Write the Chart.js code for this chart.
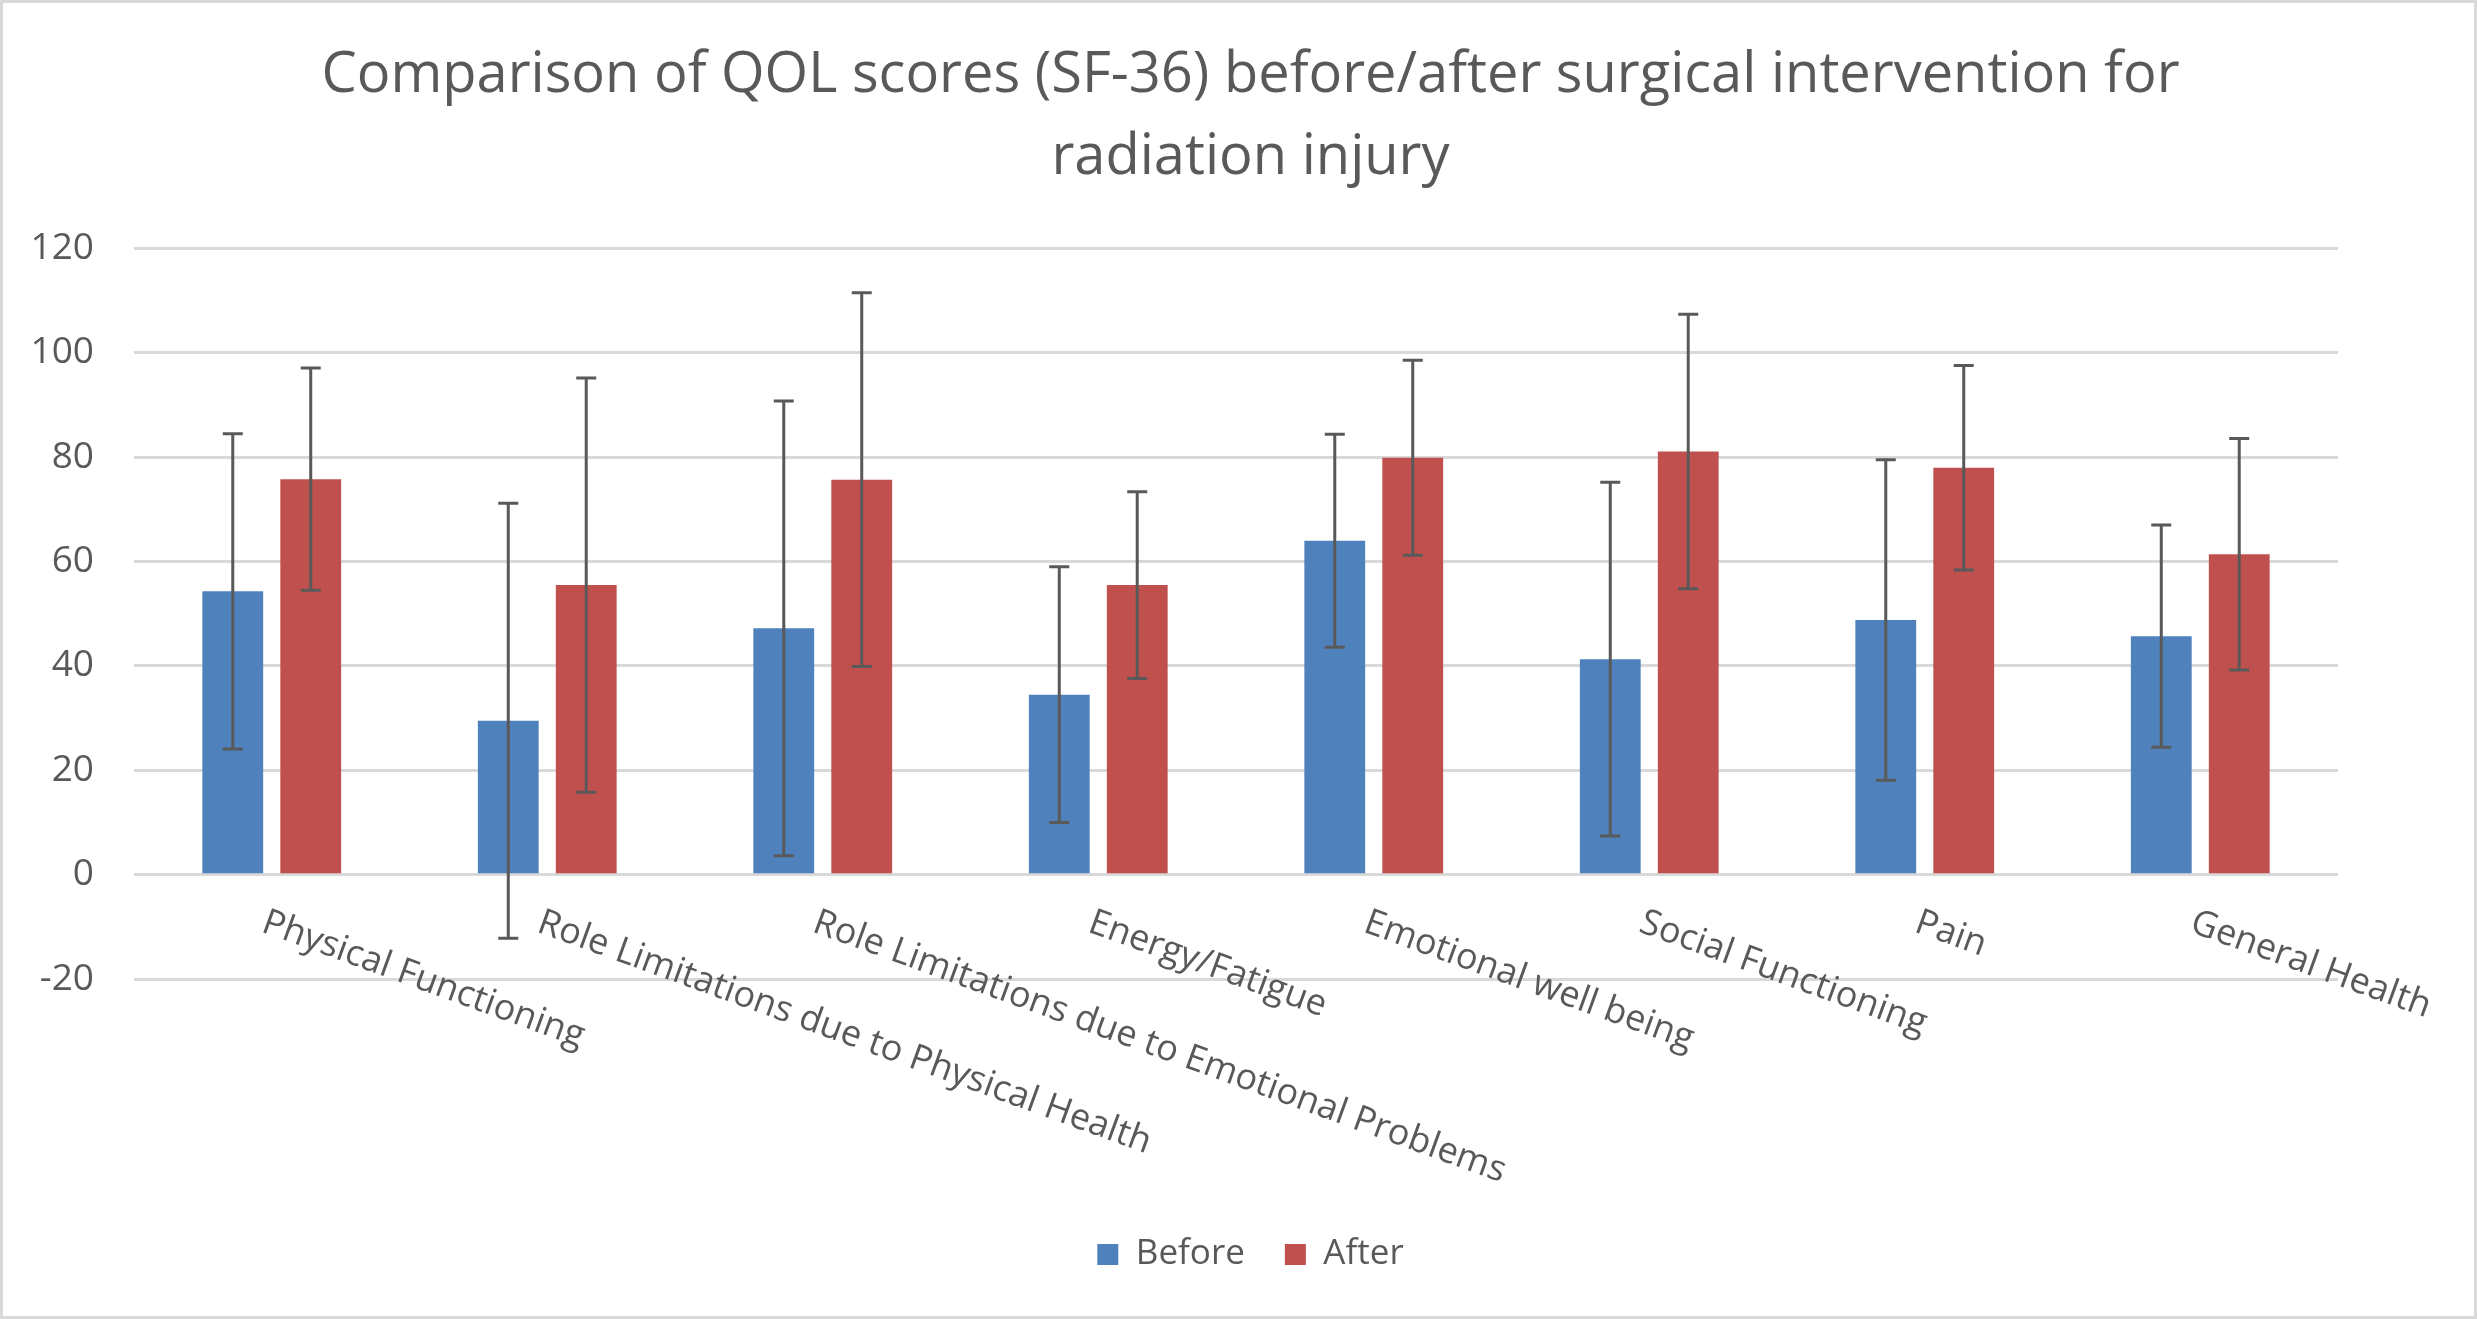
<!DOCTYPE html>
<html>
<head>
<meta charset="utf-8">
<script src="https://cdn.jsdelivr.net/npm/chart.js@4"></script>
<style>
  html, body { margin: 0; padding: 0; background: #fff; }
  #myChart { display: block; outline: 3px solid #d9d9d9; outline-offset: -3px; }
</style>
</head>
<body>
<canvas id="myChart" width="2477" height="1319"></canvas>
<script>
// categories and values
var categories = ['Physical Functioning', 'Role Limitations due to Physical Health',
    'Role Limitations due to Emotional Problems', 'Energy/Fatigue', 'Emotional well being',
    'Social Functioning', 'Pain', 'General Health'];
var before = [54.3, 29.5, 47.2, 34.5, 64.0, 41.3, 48.8, 45.7];
var beforeErr = [30.2, 41.7, 43.6, 24.5, 20.4, 33.9, 30.7, 21.3];
var after = [75.8, 55.5, 75.7, 55.5, 79.9, 81.1, 78.0, 61.4];
var afterErr = [21.3, 39.7, 35.8, 17.9, 18.7, 26.3, 19.6, 22.2];
var yTicks = [-20, 0, 20, 40, 60, 80, 100, 120];

var textColor = '#595959';
var fontName = "'Open Sans', sans-serif";

// error bars drawn on top of the bars
var errorBars = {
    id: 'errorBars',
    afterDatasetsDraw: function (chart) {
        var ctx = chart.ctx;
        var y = chart.scales.y;
        var errs = [beforeErr, afterErr];
        ctx.save();
        ctx.strokeStyle = textColor;
        ctx.lineWidth = 3;
        chart.data.datasets.forEach(function (ds, di) {
            var meta = chart.getDatasetMeta(di);
            meta.data.forEach(function (bar, i) {
                var v = ds.data[i], e = errs[di][i];
                var top = y.getPixelForValue(v + e);
                var bot = y.getPixelForValue(v - e);
                ctx.beginPath();
                ctx.moveTo(bar.x, top); ctx.lineTo(bar.x, bot);
                ctx.moveTo(bar.x - 10, top); ctx.lineTo(bar.x + 10, top);
                ctx.moveTo(bar.x - 10, bot); ctx.lineTo(bar.x + 10, bot);
                ctx.stroke();
            });
        });
        ctx.restore();
    }
};

// category labels start at the tick and slope down to the right
var slantLabels = {
    id: 'slantLabels',
    afterDraw: function (chart) {
        var ctx = chart.ctx;
        var x = chart.scales.x;
        var y0 = chart.scales.y.getPixelForValue(0);
        ctx.save();
        ctx.fillStyle = textColor;
        ctx.font = '36px ' + fontName;
        ctx.textAlign = 'left';
        ctx.textBaseline = 'top';
        categories.forEach(function (label, i) {
            ctx.save();
            ctx.translate(x.getPixelForTick(i) - 2, y0 + 30);
            ctx.rotate(20 * Math.PI / 180);
            ctx.fillText(label, 0, 0);
            ctx.restore();
        });
        ctx.restore();
    }
};

var ctx = document.getElementById('myChart').getContext('2d');
var chart = new Chart(ctx, {
    type: 'bar',
    data: {
        labels: categories,
        datasets: [{
            label: 'Before',
            backgroundColor: '#4f81bd',
            data: before
        }, {
            label: 'After',
            backgroundColor: '#c0504d',
            data: after
        }]
    },
    options: {
        responsive: false,
        devicePixelRatio: 1,
        animation: false,
        categoryPercentage: 0.566,
        barPercentage: 0.78,
        layout: { padding: { left: 24, right: 0, top: 0, bottom: 37 } },
        plugins: {
            title: {
                display: true,
                text: ['Comparison of QOL scores (SF-36) before/after surgical intervention for', 'radiation injury'],
                color: textColor,
                font: { family: fontName, size: 56, weight: 'normal', lineHeight: 1.46 },
                padding: { top: 35, bottom: 50 }
            },
            legend: {
                position: 'bottom',
                labels: {
                    color: textColor,
                    font: { family: fontName, size: 35 },
                    boxWidth: 21,
                    boxHeight: 21,
                    padding: 40
                }
            },
            tooltip: { enabled: false }
        },
        scales: {
            x: {
                grid: { display: false },
                border: { display: false },
                ticks: { display: false },
                afterFit: function (scale) { scale.height = 218; }
            },
            y: {
                min: -20,
                max: 120,
                afterBuildTicks: function (scale) {
                    scale.ticks = yTicks.map(function (v) { return { value: v }; });
                },
                afterFit: function (scale) { scale.width = 110; },
                grid: { color: '#d9d9d9', lineWidth: 3, drawTicks: false },
                border: { display: false },
                ticks: {
                    color: textColor,
                    font: { family: fontName, size: 37 },
                    padding: 40
                }
            },
            // empty space on the right of the plot
            yRight: {
                position: 'right',
                grid: { display: false },
                border: { display: false },
                ticks: { display: false },
                afterFit: function (scale) { scale.width = 139; }
            }
        }
    },
    plugins: [errorBars, slantLabels]
});
</script>
</body>
</html>
